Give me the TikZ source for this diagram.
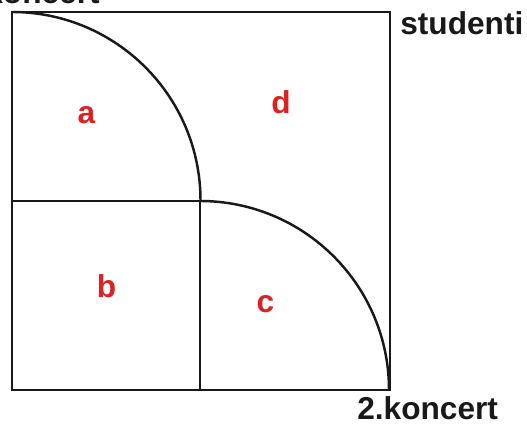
\documentclass[tikz,border=0pt]{standalone}
\usepackage{fontspec}
\setmainfont{Liberation Sans}
\definecolor{vnRed}{rgb}{0.86,0.13,0.13}
\definecolor{vnInk}{rgb}{0.10,0.10,0.10}
\begin{document}
\begin{tikzpicture}[ink/.style={line width=1.4pt, vnInk}, region/.style={font=\fontsize{18}{20}\selectfont\bfseries, text=vnRed, anchor=base, inner sep=0pt}, axis/.style={font=\fontsize{18}{20}\selectfont\bfseries, text=vnInk, inner sep=0pt}]
\useasboundingbox (0,0) rectangle (10.54,8.50);
\draw[ink] (0.24,0.70) rectangle (7.80,8.26);
% first quarter circle and its floor
\draw[ink] (0.24,8.26) arc[start angle=90, end angle=0, radius=3.77];
\draw[ink] (0.24,4.48) -- (4.00,4.48);
% second quarter circle and its wall
\draw[ink] (4.00,4.48) arc[start angle=90, end angle=0, radius=3.78];
\draw[ink] (4.00,4.48) -- (4.00,0.70);
\node[region] (a) at (1.73,6.02) {a};
\node[region] (d) at (5.62,6.22) {d};
\node[region] (b) at (2.13,2.54) {b};
\node[region] (c) at (5.31,2.24) {c};
\node[axis, anchor=base east] (k1) at (2.00,8.42) {1.koncert};
\node[axis, anchor=base west] (st) at (8.00,7.80) {studenti};
\node[axis, anchor=base west] (k2) at (7.14,0.10) {2.koncert};
\end{tikzpicture}
\end{document}
